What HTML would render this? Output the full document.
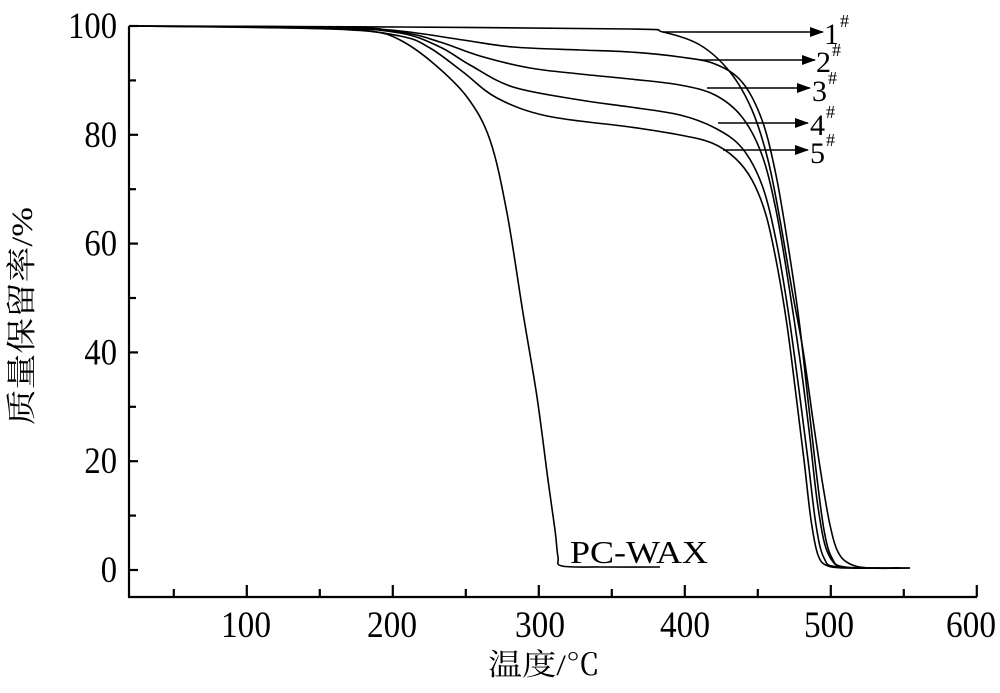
<!DOCTYPE html>
<html><head><meta charset="utf-8"><style>
body{margin:0;background:#fff;}
svg text{font-family:"Liberation Serif","Noto Serif CJK SC",serif;fill:#000;}
</style></head><body>
<svg id="s" width="1000" height="688" viewBox="0 0 1000 688" xmlns="http://www.w3.org/2000/svg">
<defs><marker id="ar" markerWidth="14" markerHeight="10" refX="13" refY="5" orient="auto" markerUnits="userSpaceOnUse"><path d="M0,0 L14,5 L0,10 z" fill="#000"/></marker></defs>
<g id="ax" stroke="#000" stroke-width="2.2" fill="none">
<path d="M129,26 V597 H977"/>
</g>
<g id="curves" stroke="#000" stroke-width="1.6" fill="none"></g>
<g stroke="#000" stroke-width="1.5" marker-end="url(#ar)">
<line x1="663" y1="32" x2="823" y2="32"/>
<line x1="700" y1="60" x2="815" y2="60"/>
<line x1="707" y1="88" x2="810" y2="88"/>
<line x1="718" y1="123" x2="808" y2="123"/>
<line x1="723" y1="150" x2="808" y2="150"/>
</g>
<g font-size="30">
<text x="824" y="44">1</text><text x="840" y="27" font-size="18">#</text>
<text x="816" y="72">2</text><text x="832" y="56" font-size="18">#</text>
<text x="812" y="101">3</text><text x="828" y="84" font-size="18">#</text>
<text x="810" y="135">4</text><text x="826" y="118" font-size="18">#</text>
<text x="810" y="163">5</text><text x="826" y="146" font-size="18">#</text>
<text x="570" y="563" font-size="32" textLength="138" lengthAdjust="spacingAndGlyphs">PC-WAX</text>
</g>
<g id="lab" font-size="37"></g>
<text x="488" y="675" font-size="30" textLength="112" lengthAdjust="spacingAndGlyphs">温度/℃</text>
<text transform="translate(32,425) rotate(-90)" font-size="30" textLength="218" lengthAdjust="spacingAndGlyphs">质量保留率/%</text>
</svg>
<script>
var X=function(t){return 130+(t-20)*1.46},Y=function(p){return 570-p*5.44};
var ns="http://www.w3.org/2000/svg";
var ax=document.getElementById('ax'),lab=document.getElementById('lab');
function add(par,tag,a,txt){var e=document.createElementNS(ns,tag);for(var k in a)e.setAttribute(k,a[k]);if(txt)e.textContent=txt;par.appendChild(e);}
for(var p=0;p<=100;p+=10){var y=Y(p);var len=(p%20==0)?9:7;add(ax,'path',{d:'M129,'+y+' h'+len});}
for(var p=0;p<=100;p+=20){var s=String(p),w=s.length*16.3;add(lab,'text',{x:117-w,y:Y(p)+12,textLength:w,lengthAdjust:'spacingAndGlyphs'},s);}
for(var t=50;t<=600;t+=50){var x=X(t);var len=(t%100==0)?12:8;add(ax,'path',{d:'M'+x+',597 v-'+len});}
var C={100:246,200:392,300:540,400:685,500:829,600:971};
for(var t=100;t<=600;t+=100){add(lab,'text',{x:C[t]-25,y:637,textLength:50,lengthAdjust:'spacingAndGlyphs'},String(t));}
var S=[
[[130,26],[300,27],[370,31],[400,40],[433,63],[467,97],[490,140],[507,213],[523,313],[537,397],[548,480],[555,530],[558,557],[562,566],[600,567],[660,567]],
[[130,26],[400,27],[630,29],[663,32],[700,45],[730,72],[752,110],[768,160],[780,220],[792,290],[803,350],[813,420],[822,480],[830,525],[838,552],[850,564],[870,568],[910,568]],
[[130,26],[330,27],[400,31],[463,40],[513,47],[580,50],[630,52],[680,57],[715,64],[742,82],[762,120],[776,175],[788,245],[799,320],[808,400],[816,470],[824,530],[832,558],[845,567],[900,568]],
[[130,26],[330,28],[400,32],[440,42],[480,56],[530,68],[580,74],[630,79],[680,85],[715,95],[742,117],[762,155],[776,210],[788,280],[800,360],[809,430],[817,500],[825,545],[836,565],[850,568],[910,568]],
[[130,26],[330,28],[400,33],[440,47],[470,65],[513,87],[580,100],[630,107],[680,115],[715,128],[742,148],[762,185],[776,240],[788,310],[799,390],[808,460],[816,525],[824,558],[838,567],[900,568]],
[[130,26],[330,29],[400,36],[430,48],[463,72],[497,98],[547,116],[630,127],[680,135],[712,143],[735,158],[752,180],[766,215],[777,265],[787,325],[796,395],[804,460],[811,520],[818,555],[828,566],[850,568],[880,568]]
];
var cg=document.getElementById('curves');
S.forEach(function(P){
var d='M'+P[0][0]+','+P[0][1];
for(var i=0;i<P.length-1;i++){var p0=P[i-1]||P[i],p1=P[i],p2=P[i+1],p3=P[i+2]||P[i+1];
var c1=[p1[0]+(p2[0]-p0[0])/6,p1[1]+(p2[1]-p0[1])/6],c2=[p2[0]-(p3[0]-p1[0])/6,p2[1]-(p3[1]-p1[1])/6];
d+=' C'+c1.join(',')+' '+c2.join(',')+' '+p2.join(',');}
add(cg,'path',{d:d});});
</script>
</body></html>
